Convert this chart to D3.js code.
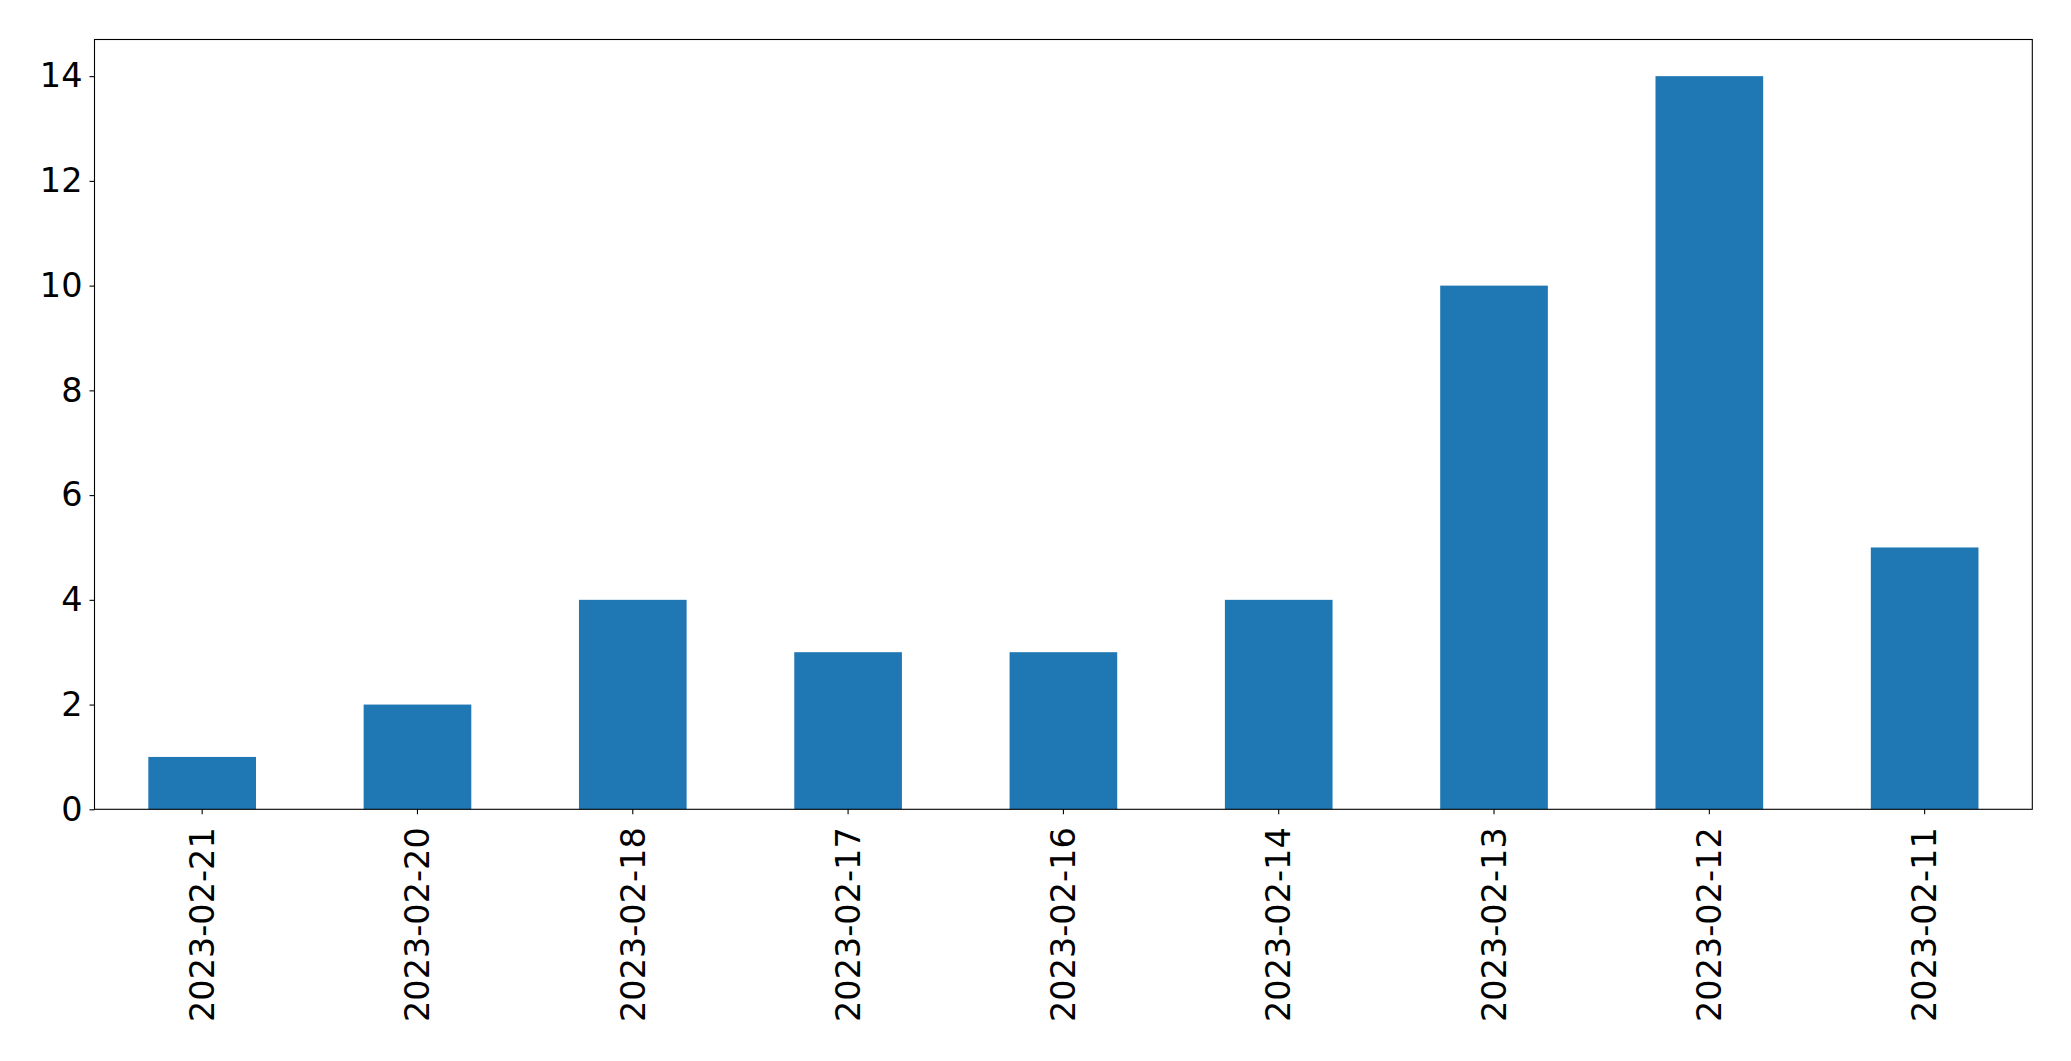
<!DOCTYPE html>
<html>
<head>
<meta charset="utf-8">
<script src="https://cdn.jsdelivr.net/npm/d3@7"></script>
<style>
  html, body { margin: 0; padding: 0; background: #fff; }
  svg { display: block; font-family: "DejaVu Sans", sans-serif; }
</style>
</head>
<body>
<svg id="chart" width="2071" height="1061"></svg>
<script>
const categories = ["2023-02-21","2023-02-20","2023-02-18","2023-02-17","2023-02-16","2023-02-14","2023-02-13","2023-02-12","2023-02-11"];
const values = [1, 2, 4, 3, 3, 4, 10, 14, 5];
const yTicks = [0, 2, 4, 6, 8, 10, 12, 14];

const W = 2071, H = 1061;
const m = { left: 94.5, right: W - 2032.3, top: 39.5, bottom: H - 809.3 };
const iw = W - m.left - m.right, ih = H - m.top - m.bottom;

const svg = d3.select("#chart");
const g = svg.append("g").attr("transform", `translate(${m.left},${m.top})`);

const x = d3.scaleBand().domain(categories).range([0, iw]).paddingInner(0.5).paddingOuter(0.25);
const y = d3.scaleLinear().domain([0, 14.7]).range([ih, 0]);

g.selectAll("rect.bar").data(values).join("rect")
  .attr("class", "bar")
  .attr("x", (d, i) => x(categories[i]))
  .attr("width", x.bandwidth())
  .attr("y", d => y(d))
  .attr("height", d => y(0) - y(d))
  .attr("fill", "#1f77b4");

const yAxis = g.append("g").call(d3.axisLeft(y).tickValues(yTicks).tickSize(5).tickPadding(7));
yAxis.select(".domain").remove();
yAxis.selectAll("text").attr("font-size", 33.5).attr("fill", "#000").attr("font-family", "DejaVu Sans");
yAxis.selectAll("line").attr("stroke", "#000").attr("stroke-width", 1.1);

const xAxis = g.append("g").attr("transform", `translate(0,${ih})`)
  .call(d3.axisBottom(x).tickSize(5).tickPadding(0));
xAxis.select(".domain").remove();
xAxis.selectAll("line").attr("stroke", "#000").attr("stroke-width", 1.1);
xAxis.selectAll("text")
  .attr("font-size", 33.5).attr("fill", "#000").attr("font-family", "DejaVu Sans")
  .attr("transform", "rotate(-90)")
  .attr("text-anchor", "end")
  .attr("x", -18).attr("y", 0).attr("dy", "0.35em");

g.append("rect").attr("x", 0).attr("y", 0).attr("width", iw).attr("height", ih)
  .attr("fill", "none").attr("stroke", "#000").attr("stroke-width", 1.1);
</script>
</body>
</html>
